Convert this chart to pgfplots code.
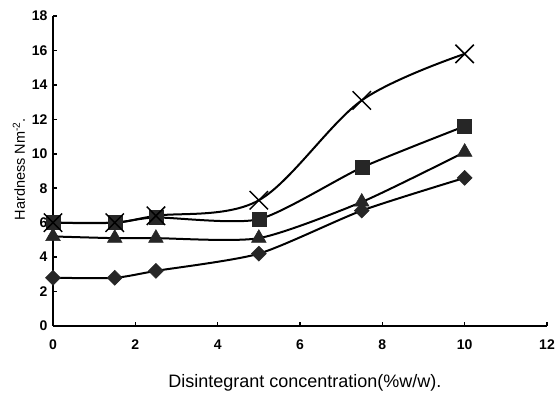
\documentclass[border=0pt]{standalone}
\usepackage{fontspec}
\setmainfont{Liberation Sans}
\usepackage{pgfplots}
\pgfplotsset{compat=1.18}
\definecolor{mk}{HTML}{262626}
\begin{document}
\begin{tikzpicture}[x=1pt,y=1pt]
\begin{axis}[
  at={(53pt,75pt)}, anchor=south west,
  scale only axis, width=494pt, height=310pt,
  xmin=0, xmax=12, ymin=0, ymax=18,
  axis lines=left,
  axis line style={-, line width=2.4pt, black},
  xtick={0,2,4,6,8,10,12},
  ytick={0,2,4,6,8,10,12,14,16,18},
  tick align=inside,
  major tick length=4pt,
  tick style={line width=1.6pt, black},
  /pgf/number format/assume math mode=true,
  ticklabel style={font=\fontsize{14}{16}\selectfont\bfseries},
  yticklabel style={xshift=-2pt},
  xticklabel style={yshift=-10pt},
  xlabel={Disintegrant concentration(\%w/w).},
  ylabel={Hardness Nm\textsuperscript{-2}.},
  xlabel style={at={(axis description cs:0.51,-0.184)}, anchor=center, font=\fontsize{18}{20}\selectfont},
  ylabel style={at={(axis description cs:-0.069,0.506)}, anchor=center, font=\fontsize{14.5}{16}\selectfont},
  clip=false,
  every axis plot/.append style={line width=2pt, black, smooth, tension=0.4},
]
% diamond
\addplot[mark=square*, mark size=5.3pt, mark options={rotate=45, fill=mk, draw=mk, line width=0.5pt}]
  coordinates {(0,2.8) (1.5,2.8) (2.5,3.2) (5,4.2) (7.5,6.7) (10,8.6)};
% triangle
\addplot[mark=triangle*, mark size=8.5pt, mark options={fill=mk, draw=mk, line width=0.5pt}]
  coordinates {(0,5.2) (1.5,5.1) (2.5,5.1) (5,5.1) (7.5,7.2) (10,10.1)};
% square
\addplot[mark=square*, mark size=7pt, mark options={fill=mk, draw=mk, line width=0.5pt}]
  coordinates {(0,6.0) (1.5,6.0) (2.5,6.3) (5,6.2) (7.5,9.2) (10,11.6)};
% cross
\addplot[mark=x, mark size=13pt, tension=0.55, mark options={draw=black, line width=1.5pt}]
  coordinates {(0,6.0) (1.5,6.0) (2.5,6.4) (5,7.3) (7.5,13.1) (10,15.8)};
\end{axis}
\pgfresetboundingbox
\path[use as bounding box] (0,0) rectangle (556,401);
\end{tikzpicture}
\end{document}
